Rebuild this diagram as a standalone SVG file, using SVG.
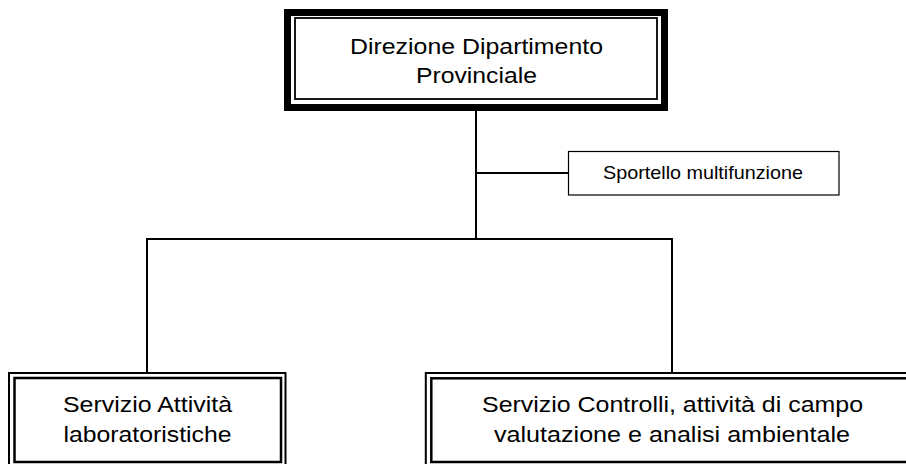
<svg xmlns="http://www.w3.org/2000/svg" width="906" height="464" viewBox="0 0 906 464">
<style>
  text { font-family: "Liberation Sans", Arial, sans-serif; fill: #000; text-anchor: middle; }
  .big { font-size: 22.5px; }
  .small { font-size: 18.5px; }
  .thick { fill: none; stroke: #000; stroke-width: 7; }
  .thin { fill: none; stroke: #000; stroke-width: 1.8; }
  .dbl-o { fill: none; stroke: #000; stroke-width: 2; }
  .dbl-i { fill: none; stroke: #000; stroke-width: 2.5; }
  .box { fill: #fff; stroke: #000; stroke-width: 1.2; }
  .conn { fill: none; stroke: #000; stroke-width: 2; }
</style>
<rect x="0" y="0" width="906" height="464" fill="#fff"/>
<g id="connectors">
  <line class="conn" x1="476" y1="111" x2="476" y2="239"/>
  <line class="conn" x1="476" y1="173" x2="568" y2="173"/>
  <polyline class="conn" points="147,373 147,239 672,239 672,373"/>
</g>
<g id="node-direzione">
  <rect class="thick" x="287.5" y="12.5" width="377" height="95"/>
  <rect class="thin" x="295" y="18" width="362" height="81"/>
  <text class="big" x="476.5" y="54" textLength="253" lengthAdjust="spacingAndGlyphs">Direzione Dipartimento</text>
  <text class="big" x="476.5" y="83" textLength="121" lengthAdjust="spacingAndGlyphs">Provinciale</text>
</g>
<g id="node-sportello">
  <rect class="box" x="568.5" y="151.5" width="270.5" height="43.5"/>
  <text class="small" x="703" y="179" textLength="200" lengthAdjust="spacingAndGlyphs">Sportello multifunzione</text>
</g>
<g id="node-laboratorio">
  <rect class="dbl-o" x="9" y="373" width="276.5" height="120"/>
  <rect class="dbl-i" x="14.5" y="378" width="266.5" height="84"/>
  <text class="big" x="147.5" y="412" textLength="169" lengthAdjust="spacingAndGlyphs">Servizio Attività</text>
  <text class="big" x="147.5" y="442" textLength="168" lengthAdjust="spacingAndGlyphs">laboratoristiche</text>
</g>
<g id="node-controlli">
  <rect class="dbl-o" x="425.8" y="373" width="520" height="120"/>
  <rect class="dbl-i" x="431.3" y="378.3" width="520" height="83.7"/>
  <text class="big" x="672.5" y="412" textLength="381" lengthAdjust="spacingAndGlyphs">Servizio Controlli, attività di campo</text>
  <text class="big" x="672" y="442" textLength="356" lengthAdjust="spacingAndGlyphs">valutazione e analisi ambientale</text>
</g>
</svg>
